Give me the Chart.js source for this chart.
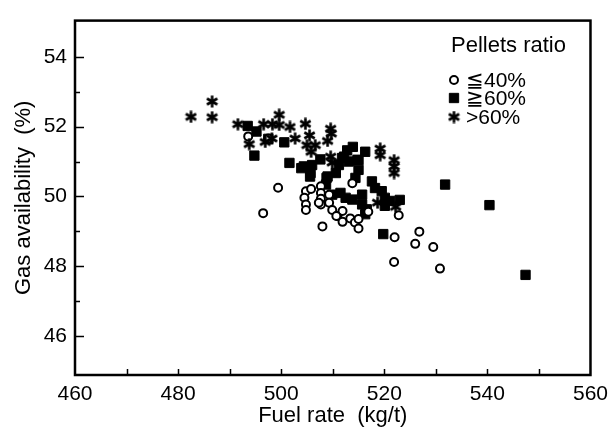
<!DOCTYPE html>
<html>
<head>
<meta charset="utf-8">
<script src="https://cdn.jsdelivr.net/npm/chart.js@4/dist/chart.umd.min.js"></script>
<style>
  html, body { margin: 0; padding: 0; background: #fff; }
  #wrap { width: 615px; height: 430px; }
</style>
</head>
<body>
<div id="wrap"><canvas id="gasChart"></canvas></div>
<script>
// Fuel rate (kg/t) vs gas availability (%), grouped by pellets ratio
const lowX = [493.6, 497.5, 499.4, 496.5, 504.8, 504.5, 504.8, 504.8, 505.8, 507.7, 507.7, 507.7, 507.7, 509.3, 509.3, 509.9, 510.9, 511.9, 511.9, 513.8, 513.4, 514.3, 515.0, 515.0, 516.9, 508.0, 522.8, 522.0, 521.9, 526.8, 526.0, 529.5, 530.8, 507.3, 510.7];
const lowY = [51.72, 51.66, 50.25, 49.52, 50.15, 49.96, 49.77, 49.61, 50.21, 50.29, 50.10, 49.93, 49.77, 50.05, 49.82, 49.61, 49.44, 49.58, 49.27, 50.38, 49.37, 49.25, 49.08, 49.35, 49.56, 49.14, 49.46, 48.83, 48.12, 48.99, 48.64, 48.55, 47.93, 49.82, 49.44];

const midX = [493.5, 495.2, 494.8, 497.5, 500.6, 501.6, 503.9, 504.4, 505.7, 506.0, 505.6, 507.6, 508.8, 509.0, 508.7, 510.6, 511.2, 512.2, 512.8, 513.9, 513.1, 515.0, 516.3, 515.0, 514.4, 511.5, 509.9, 512.5, 513.8, 515.7, 515.7, 516.6, 516.3, 517.6, 518.2, 519.5, 520.1, 520.1, 521.1, 523.0, 519.8, 531.8, 540.4, 547.4, 511.8, 514.8];
const midY = [52.02, 51.86, 51.17, 51.65, 51.55, 50.96, 50.81, 50.86, 50.67, 50.90, 50.57, 51.06, 50.53, 50.57, 50.34, 50.67, 50.90, 51.14, 51.32, 51.42, 51.00, 51.04, 51.28, 50.76, 50.53, 50.10, 50.05, 49.96, 49.91, 50.05, 49.77, 49.63, 49.49, 50.43, 50.24, 50.15, 49.96, 49.73, 49.87, 49.90, 48.92, 50.34, 49.75, 47.75, 51.10, 51.05];

const highX = [482.5, 486.6, 486.6, 491.6, 493.8, 496.6, 496.9, 498.2, 498.3, 499.6, 499.6, 501.7, 502.7, 504.7, 505.5, 505.0, 505.8, 506.6, 509.0, 509.6, 509.7, 509.6, 509.9, 519.2, 519.2, 521.9, 521.9, 521.9, 518.7, 522.2];
const highY = [52.28, 52.72, 52.27, 52.07, 51.50, 52.07, 51.56, 51.66, 52.07, 52.34, 52.05, 51.99, 51.66, 52.08, 51.75, 51.47, 51.28, 51.47, 51.59, 51.94, 51.80, 51.14, 50.97, 51.37, 51.18, 51.04, 50.86, 50.67, 49.82, 49.70];

const seriesNames = ['≦40%', '≧60%', '>60%'];
const legendTitle = 'Pellets ratio';
const xTicks = [460, 470, 480, 490, 500, 510, 520, 530, 540, 550, 560];
const yTicks = [46, 47, 48, 49, 50, 51, 52, 53, 54];

const FONT = '"Liberation Sans", Arial, Helvetica, sans-serif';

function toPoints(xs, ys) {
  return xs.map((x, i) => ({ x: x, y: ys[i] }));
}

// six-armed asterisk marker
function makeAsterisk(size) {
  const c = document.createElement('canvas');
  c.width = size;
  c.height = size;
  const g = c.getContext('2d');
  const r = size / 2 - 0.5;
  g.strokeStyle = '#000';
  g.lineWidth = 2.6;
  g.translate(size / 2, size / 2);
  for (let k = 0; k < 3; k++) {
    const a = Math.PI / 2 + k * Math.PI / 3;
    g.beginPath();
    g.moveTo(Math.cos(a) * r, Math.sin(a) * r);
    g.lineTo(-Math.cos(a) * r, -Math.sin(a) * r);
    g.stroke();
  }
  return c;
}
const asterisk = makeAsterisk(13);

// frame, inward ticks and the legend box
const framePlugin = {
  id: 'framePlugin',
  afterDraw(chart) {
    const ctx = chart.ctx;
    const a = chart.chartArea;
    const xs = chart.scales.x;
    const ys = chart.scales.y;
    ctx.save();
    ctx.strokeStyle = '#000';
    ctx.lineWidth = 2.5;
    ctx.strokeRect(a.left, a.top, a.right - a.left, a.bottom - a.top);

    ctx.lineWidth = 1.5;
    ctx.beginPath();
    xTicks.forEach(v => {
      if (v === 460 || v === 560) return;
      const px = Math.round(xs.getPixelForValue(v)) + 0.5;
      ctx.moveTo(px, a.bottom);
      ctx.lineTo(px, a.bottom - 6);
    });
    yTicks.forEach(v => {
      const py = Math.round(ys.getPixelForValue(v)) + 0.5;
      const len = v % 2 === 0 ? 9 : 5;
      ctx.moveTo(a.left, py);
      ctx.lineTo(a.left + len, py);
    });
    ctx.stroke();

    // legend
    ctx.fillStyle = '#000';
    ctx.font = '22px ' + FONT;
    ctx.textBaseline = 'middle';
    ctx.textAlign = 'left';
    ctx.fillText(legendTitle, 451, 46);
    const rows = [80, 98, 117];
    chart.data.datasets.forEach((ds, i) => {
      ctx.fillStyle = ds.backgroundColor;
      ctx.strokeStyle = ds.borderColor;
      ctx.lineWidth = ds.borderWidth;
      Chart.helpers.drawPoint(ctx, {
        pointStyle: ds.pointStyle,
        radius: ds.pointRadius,
        borderWidth: ds.borderWidth
      }, 454, rows[i]);
      ctx.fillStyle = '#000';
      ctx.font = '21px ' + FONT;
      ctx.fillText(seriesNames[i], 466, rows[i] + 1);
    });
    ctx.restore();
  }
};

new Chart(document.getElementById('gasChart'), {
  type: 'scatter',
  data: {
    datasets: [
      {
        label: seriesNames[0],
        data: toPoints(lowX, lowY),
        pointStyle: 'circle',
        pointRadius: 4,
        borderWidth: 2,
        borderColor: '#000',
        backgroundColor: '#fff',
        order: 2
      },
      {
        label: seriesNames[1],
        data: toPoints(midX, midY),
        pointStyle: 'rect',
        pointRadius: 6.6,
        borderWidth: 1,
        borderColor: '#000',
        backgroundColor: '#000',
        order: 3
      },
      {
        label: seriesNames[2],
        data: toPoints(highX, highY),
        pointStyle: asterisk,
        pointRadius: 6,
        borderWidth: 1,
        borderColor: '#000',
        backgroundColor: '#000',
        order: 1
      }
    ]
  },
  options: {
    responsive: true,
    maintainAspectRatio: false,
    animation: false,
    layout: { padding: { top: 15, right: 16, left: 0, bottom: 0 } },
    plugins: {
      legend: { display: false },
      tooltip: { enabled: false }
    },
    scales: {
      x: {
        type: 'linear',
        min: 460,
        max: 560,
        afterBuildTicks: s => { s.ticks = xTicks.map(v => ({ value: v })); },
        afterFit: s => { s.height = 55; },
        grid: { display: false, drawTicks: false },
        border: { display: false },
        ticks: {
          color: '#000',
          padding: 7,
          maxRotation: 0,
          autoSkip: false,
          font: { family: FONT, size: 21 },
          callback: v => (v % 20 === 0 ? String(v) : '')
        },
        title: {
          display: true,
          text: 'Fuel rate  (kg/t)',
          color: '#000',
          font: { family: FONT, size: 22 },
          padding: { top: 0, bottom: 1 }
        }
      },
      y: {
        type: 'linear',
        min: 44.88,
        max: 55.04,
        afterBuildTicks: s => { s.ticks = yTicks.map(v => ({ value: v })); },
        afterFit: s => { s.width = 75; },
        grid: { display: false, drawTicks: false },
        border: { display: false },
        ticks: {
          color: '#000',
          padding: 8,
          autoSkip: false,
          font: { family: FONT, size: 21 },
          callback: v => (v % 2 === 0 ? String(v) : '')
        },
        title: {
          display: true,
          text: 'Gas availability  (%)',
          color: '#000',
          font: { family: FONT, size: 22 },
          padding: { top: 11, bottom: 0 }
        }
      }
    }
  },
  plugins: [framePlugin]
});
</script>
</body>
</html>
